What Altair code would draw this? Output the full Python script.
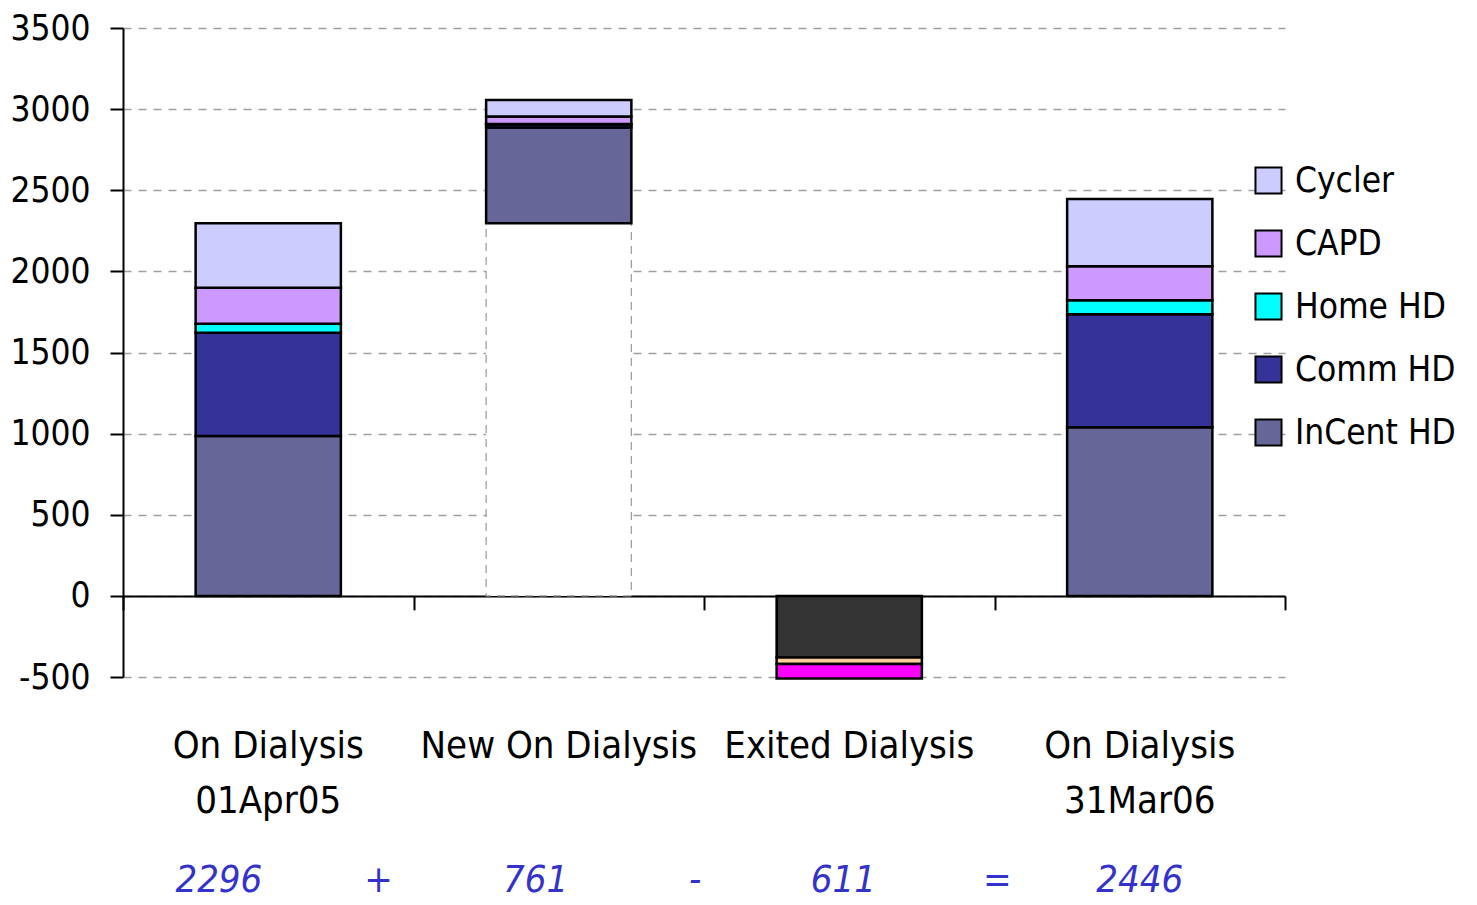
import altair as alt
import pandas as pd

# ---- data ----
categories = ["On Dialysis\n01Apr05", "New On Dialysis", "Exited Dialysis", "On Dialysis\n31Mar06"]
series = ["InCent HD", "Comm HD", "Home HD", "CAPD", "Cycler"]
start_vals = [985, 637, 55, 222, 397]      # 01Apr05, total 2296
new_vals = [590, 20, 3, 45, 103]           # new on dialysis, total 761
end_vals = [1040, 695, 87, 210, 414]       # 31Mar06, total 2446
exit_series = ["Died", "Transplanted", "Recovered"]
exit_vals = [-380, -40, -90]
series_colors = ["#666699", "#333399", "#00FFFF", "#CC99FF", "#CCCCFF"]
exit_colors = ["#333333", "#FFCC99", "#FF00FF"]
legend_order = ["Cycler", "CAPD", "Home HD", "Comm HD", "InCent HD"]
eq_texts = ["2296", "+", "761", "-", "611", "=", "2446"]
eq_pos = [0.33, 0.88, 1.42, 1.97, 2.48, 3.01, 3.50]

FONT = "DejaVu Sans Condensed, Liberation Sans Narrow, sans-serif"

# ---- build stacked segments ----
rows = []
def add_stack(idx, names, vals, base=0):
    cur = base
    for n, v in zip(names, vals):
        rows.append({"x0": idx + 0.25, "x1": idx + 0.75, "y0": cur, "y1": cur + v, "series": n})
        cur += v
    return cur

start_total = add_stack(0, series, start_vals)
add_stack(1, series, new_vals, base=start_total)
add_stack(2, exit_series, exit_vals)
add_stack(3, series, end_vals)
seg = pd.DataFrame(rows)

base_df = pd.DataFrame([{"x0": 1.25, "x1": 1.75, "y0": 0, "y1": start_total}])
cat_df = pd.DataFrame({"x": [i + 0.5 for i in range(len(categories))], "label": categories})
eq_df = pd.DataFrame({"x": eq_pos, "t": eq_texts})

W, H = 1162, 649
ydom = [-500, 3500]
zero_offset = -H * (0 - ydom[0]) / (ydom[1] - ydom[0])

xscale = alt.Scale(domain=[0, 4], nice=False, zero=False)
yscale = alt.Scale(domain=ydom, nice=False)

xaxis = alt.Axis(values=[0, 1, 2, 3, 4], labels=False, title=None, grid=False,
                 domainColor="black", domainWidth=2, tickColor="black", tickWidth=2,
                 tickSize=14, offset=zero_offset)
yaxis = alt.Axis(values=list(range(-500, 3501, 500)), title=None, grid=True,
                 labelExpr="'' + datum.value",
                 gridColor="#A0A0A0", gridDash=[8, 7], gridWidth=1.3,
                 domainColor="black", domainWidth=2, tickColor="black", tickWidth=2,
                 tickSize=13, labelFont=FONT, labelFontSize=35, labelColor="black",
                 labelPadding=20)

base = alt.Chart(base_df).mark_bar(fill="white", stroke="#A0A0A0", strokeDash=[8, 6],
                                   strokeWidth=1.3).encode(
    x=alt.X("x0:Q", scale=xscale, axis=xaxis),
    x2="x1:Q",
    y=alt.Y("y0:Q", scale=yscale, axis=yaxis),
    y2="y1:Q",
)

bars = alt.Chart(seg).mark_bar(stroke="black", strokeWidth=2.5).encode(
    x=alt.X("x0:Q", scale=xscale),
    x2="x1:Q",
    y=alt.Y("y0:Q", scale=yscale),
    y2="y1:Q",
    color=alt.Color("series:N",
                    scale=alt.Scale(domain=series + exit_series, range=series_colors + exit_colors),
                    legend=alt.Legend(values=legend_order, title=None, orient="none",
                                      legendX=1128, legendY=135, padding=0,
                                      symbolType="square", symbolSize=680,
                                      symbolStrokeColor="black", symbolStrokeWidth=2,
                                      labelFont=FONT, labelFontSize=35, labelColor="black",
                                      labelOffset=9, rowPadding=27, labelLimit=300)),
)

cats = alt.Chart(cat_df).mark_text(font=FONT, fontSize=38, color="black", baseline="top",
                                   align="center", lineBreak="\n", lineHeight=55).encode(
    x=alt.X("x:Q", scale=xscale),
    y=alt.value(700),
    text="label:N",
)

eq = alt.Chart(eq_df).mark_text(font=FONT, fontSize=38, fontStyle="italic", color="#3333CC",
                                baseline="middle", align="center").encode(
    x=alt.X("x:Q", scale=xscale),
    y=alt.value(853),
    text="t:N",
)

chart = alt.layer(base, bars, cats, eq).properties(
    width=W, height=H,
    autosize=alt.AutoSizeParams(type="none"),
    padding={"left": 115, "top": 20, "right": 180, "bottom": 225},
).configure_view(stroke=None).configure_axis(labelFlush=False)

chart.save("out.html", embed_options={"renderer": "svg", "actions": False})
